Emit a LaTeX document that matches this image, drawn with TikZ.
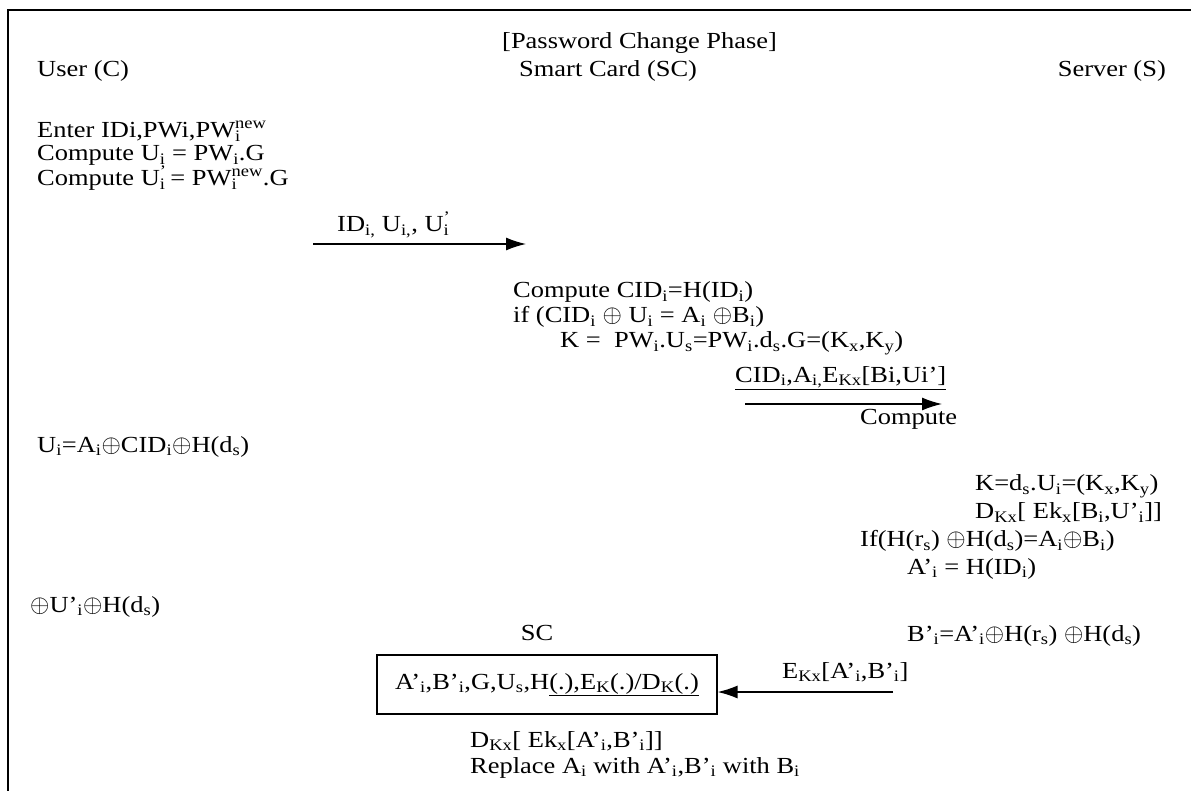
\documentclass[tikz,border=0pt]{standalone}
\usepackage{fontspec}
\setmainfont[FakeStretch=1.15]{Liberation Serif}
\usetikzlibrary{arrows.meta}
\newcommand\lo[1]{\textsubscript{#1}}
\newcommand\hi[1]{\textsuperscript{#1}}
\newcommand\xo{$\oplus$}
\tikzset{
  txt/.style={inner sep=0pt, anchor=base west, align=left, font=\fontsize{23}{25}\selectfont},
  txtr/.style={inner sep=0pt, anchor=base east, font=\fontsize{23}{25}\selectfont},
  txtc/.style={inner sep=0pt, anchor=base, font=\fontsize{23}{25}\selectfont},
  msg/.style={line width=1.3pt, -{Latex[length=20pt,width=13pt]}},
  frame/.style={line width=1.5pt}
}
\begin{document}
\begin{tikzpicture}[x=1pt,y=-1pt]
\useasboundingbox (0,0) rectangle (1191,791);
\draw[frame] (8,800) -- (8,10) -- (1200,10);

\node[txt] (title) at (502,49) {[Password Change Phase]};
\node[txt] (user) at (37,77) {User (C)};
\node[txt] (sc) at (519,77) {Smart Card (SC)};
\node[txtr] (server) at (1166,77) {Server (S)};

% multi-line blocks are placed by the baseline of their last line
\node[txt] (u1) at (37,186) {Enter IDi,PWi,PW\rlap{\lo{i}}\hi{new}\\[-2pt]
  Compute U\lo{i} = PW\lo{i}.G\\
  Compute U\rlap{\lo{i}}\hi{’}\,= PW\rlap{\lo{i}}\hi{new}.G};

\node[txt] (m1) at (337,232) {ID\lo{i,} U\lo{i,}, U\rlap{\lo{i}}\hi{’}};
\coordinate (m1a) at (313,244);
\coordinate (m1b) at (526,244);
\draw[msg] (m1a) -- (m1b);

\node[txt] (c1) at (513,348) {Compute CID\lo{i}=H(ID\lo{i})\\
  if (CID\lo{i} \xo{} U\lo{i} = A\lo{i} \xo{}B\lo{i})\\
  \hspace*{47pt}K =\ \ PW\lo{i}.U\lo{s}=PW\lo{i}.d\lo{s}.G=(K\lo{x},K\lo{y})};
\node[txt] (m2) at (735,382) {\underline{CID\lo{i},A\lo{i,}E\lo{Kx}[Bi,Ui’]}};
\coordinate (m2a) at (745,404);
\coordinate (m2b) at (942,404);
\draw[msg] (m2a) -- (m2b);
\node[txt] (c4) at (860,424) {Compute};

\node[txt] (u4) at (37,452) {U\lo{i}=A\lo{i}\xo{}CID\lo{i}\xo{}H(d\lo{s})};

\node[txt, font=\fontsize{23}{27.7}\selectfont] (s1) at (860,574)
  {\hspace*{115pt}K=d\lo{s}.U\lo{i}=(K\lo{x},K\lo{y})\\
   \hspace*{115pt}D\lo{Kx}[ Ek\lo{x}[B\lo{i},U’\lo{i}]]\\
   If(H(r\lo{s}) \xo{}H(d\lo{s})=A\lo{i}\xo{}B\lo{i})\\
   \hspace*{47pt}A’\lo{i} = H(ID\lo{i})};

\node[txt] (u5) at (30,612) {\xo{}U’\lo{i}\xo{}H(d\lo{s})};

\node[txt] (s5) at (907,641) {B’\lo{i}=A’\lo{i}\xo{}H(r\lo{s}) \xo{}H(d\lo{s})};
\node[txtc] (sclab) at (537,640) {SC};

\node[draw, line width=1.2pt, minimum width=340pt, minimum height=59pt, inner sep=0pt,
      font=\fontsize{23}{25}\selectfont] (box) at (547,684.5)
  {A’\lo{i},B’\lo{i},G,U\lo{s},H\underline{(.),E\lo{K}(.)/D\lo{K}(.)}};

\node[txt] (m3) at (782,678) {E\lo{Kx}[A’\lo{i},B’\lo{i}]};
\coordinate (m3a) at (893,692);
\draw[msg] (m3a) -- (box.east |- m3a);

\node[txt, font=\fontsize{23}{26}\selectfont] (b1) at (470,773)
  {D\lo{Kx}[ Ek\lo{x}[A’\lo{i},B’\lo{i}]]\\
   Replace A\lo{i} with A’\lo{i},B’\lo{i} with B\lo{i}};
\end{tikzpicture}
\end{document}
